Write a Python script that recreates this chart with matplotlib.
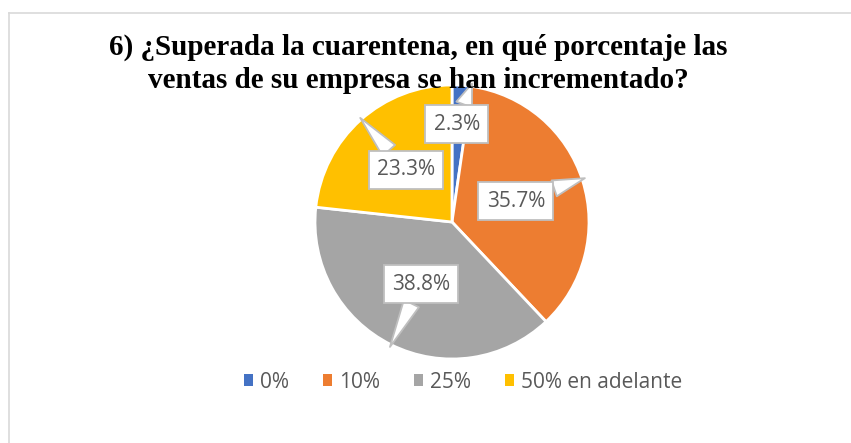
import numpy as np
import matplotlib
matplotlib.use("Agg")
import matplotlib.pyplot as plt
from matplotlib.patches import Patch
from matplotlib.lines import Line2D

# datos
categorias = ["0%", "10%", "25%", "50% en adelante"]
valores = [2.3, 35.7, 38.8, 23.3]
etiquetas = ["2.3%", "35.7%", "38.8%", "23.3%"]
colores = ["#4472C4", "#ED7D31", "#A5A5A5", "#FFC000"]

titulo = "6) ¿Superada la cuarentena, en qué porcentaje las\nventas de su empresa se han incrementado?"

W, H = 851, 443
fig = plt.figure(figsize=(W / 100, H / 100), dpi=100)

# marco gris del grafico
fig.add_artist(Line2D([8.5 / W, 8.5 / W], [0, 1 - 12.5 / H], color="#d9d9d9", lw=1.2))
fig.add_artist(Line2D([8.5 / W, 1], [1 - 12.5 / H, 1 - 12.5 / H], color="#d9d9d9", lw=1.2))

# eje del pastel: centro (452, 222) px, radio 137 px
cx, cy, r = 452, 222, 137
ax = fig.add_axes([(cx - r) / W, (H - cy - r) / H, 2 * r / W, 2 * r / H])
wedges, _ = ax.pie(valores, colors=colores, startangle=90, counterclock=False,
                   wedgeprops=dict(edgecolor="white", linewidth=2))
ax.set_xlim(-1, 1)
ax.set_ylim(-1, 1)
ax.set_aspect("equal")
ax.axis("off")

# posiciones de las etiquetas (texto) y puntas del globo, en unidades del radio
pos_texto = [(0.036, 0.715), (0.467, 0.153), (-0.226, -0.453), (-0.336, 0.38)]
pos_punta = [(0.146, 1.01), (0.97, 0.32), (-0.453, -0.912), (-0.67, 0.76)]

for lab, xt, xp in zip(etiquetas, pos_texto, pos_punta):
    ax.annotate(lab, xy=xp, xytext=xt, ha="center", va="center",
                fontsize=15, color="#595959", family="Open Sans",
                bbox=dict(boxstyle="square,pad=0.4", fc="white", ec="#bfbfbf", lw=1.3),
                arrowprops=dict(arrowstyle="wedge,tail_width=0.8,shrink_factor=0.5",
                                fc="white", ec="#bfbfbf", lw=1.3, shrinkA=0, shrinkB=0),
                annotation_clip=False)

fig.text(418 / W, 1 - 64 / H, titulo, ha="center", va="center", fontsize=21,
         fontweight="bold", family="Liberation Serif", linespacing=1.3)

handles = [Patch(facecolor=c, edgecolor="none") for c in colores]
leg = fig.legend(handles, categorias, loc="center", bbox_to_anchor=(463 / W, 1 - 382 / H),
                 ncol=4, frameon=False, handlelength=0.45, handleheight=0.45,
                 handletextpad=0.35, columnspacing=1.6,
                 prop=dict(family="Open Sans", size=15))
for t in leg.get_texts():
    t.set_color("#595959")

fig.savefig("out.png", dpi=100)
